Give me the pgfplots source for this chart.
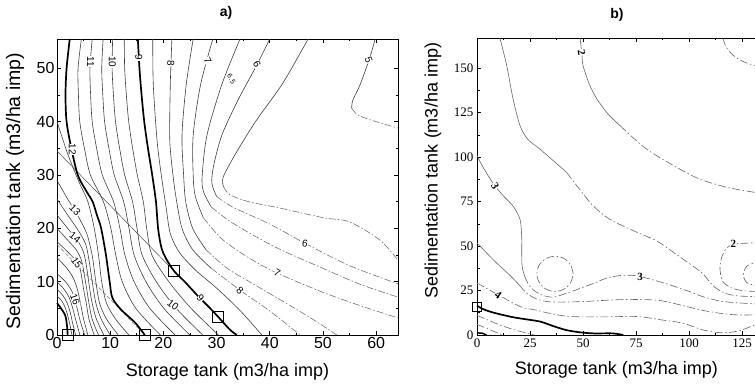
\documentclass[border=0pt]{standalone}
\usepackage{fontspec}
\setmainfont{Liberation Sans}
\newfontfamily\serif{Liberation Serif}
\usepackage{pgfplots}
\pgfplotsset{compat=1.18}
\pgfplotsset{
  cl/.style={no marks, smooth, line width=0.6pt, black!75},
  th/.style={no marks, smooth, line width=1.7pt, black},
  dl/.style={no marks, smooth, line width=0.6pt, black!55, dash pattern=on 7pt off 2pt on 1.5pt off 2pt},
  bl/.style={no marks, smooth, line width=0.6pt, black!60},
  bd/.style={no marks, smooth, line width=0.6pt, black!60, dash pattern=on 8pt off 2.5pt on 1.5pt off 2.5pt},
}
\tikzset{
  lab/.style={fill=white, inner sep=0.3pt, font=\fontsize{10}{10}\selectfont},
  labb/.style={fill=white, inner sep=0.5pt, font=\serif\bfseries\fontsize{11}{11}\selectfont},
}
\begin{document}
\begin{tikzpicture}[x=1pt,y=1pt]
\useasboundingbox (0,0) rectangle (755,389);
\node[font=\bfseries\fontsize{14}{14}\selectfont] at (226,376) {a)};
\node[font=\bfseries\fontsize{14}{14}\selectfont] at (617,374) {b)};
% ---------------- panel a ----------------
\begin{axis}[name=a, at={(57pt,54pt)}, anchor=south west, scale only axis,
  width=341pt, height=296pt, xmin=0, xmax=64.1, ymin=0, ymax=55.5,
  xtick={0,10,...,60}, ytick={0,10,...,50}, minor tick num=1,
  tick align=inside, major tick length=4pt, minor tick length=2.5pt,
  every tick/.style={black, line width=0.6pt},
  axis line style={line width=0.8pt},
  /pgf/number format/assume math mode=true,
  ticklabel style={font=\fontsize{16}{16}\selectfont},
  xticklabel style={yshift=1pt}, yticklabel style={xshift=1pt},
  every axis x label/.style={at={(rel axis cs:0.5,0)}, anchor=center, yshift=-37pt, font=\fontsize{18}{18}\selectfont},
  every axis y label/.style={at={(rel axis cs:0,0.5)}, anchor=center, rotate=90, yshift=42pt, xshift=-4pt, font=\fontsize{19.5}{19.5}\selectfont},
  xlabel={Storage tank (m3/ha imp)}, ylabel={Sedimentation tank (m3/ha imp)},
  clip=false]
% straight lines
\addplot[no marks, line width=0.5pt, black!70] coordinates {(0,34.5) (22,12)};
\addplot[no marks, line width=0.5pt, black!55, dash pattern=on 4pt off 2pt] coordinates {(0,17) (16.5,0)};
% left bundle
\addplot[cl] coordinates {(0,40) (2,34) (4,29) (5.8,25) (7,20) (7.8,15) (8.4,10) (9.3,6) (11,3) (13.5,0)};
\addplot[cl] coordinates {(0,29) (2,25.5) (4,22.2) (5.6,19) (6.6,15) (7.3,10) (8,6) (9.3,3) (11.5,0)};
\addplot[cl] coordinates {(0,25.5) (2,22.5) (4,19.6) (5.4,17) (6.1,13.5) (6.7,9.5) (7.3,6) (8.3,3) (10,0)};
\addplot[cl] coordinates {(0,22.5) (2,20) (3.8,17.8) (5,15.5) (5.6,12.5) (6.1,9) (6.6,6) (7.4,3) (8.8,0)};
\addplot[cl] coordinates {(0,20) (2,17.8) (3.6,16) (4.6,14) (5.1,11.5) (5.6,8.5) (6,6) (6.6,3) (7.8,0)};
\addplot[cl] coordinates {(0,17.5) (2,15.6) (3.5,14) (4.3,12.5) (4.7,10.5) (5.1,8) (5.5,6) (6,3) (7,0)};
\addplot[cl] coordinates {(0,14.5) (1.8,12.6) (3.0,10.8) (3.7,9) (4.2,7) (4.6,5) (5,3) (5.8,0)};
\addplot[cl] coordinates {(0,11.5) (1.6,10) (2.8,8.2) (3.4,6.6) (3.9,4.5) (4.4,2.5) (5.2,0)};
\addplot[cl] coordinates {(0,10) (1.3,8.6) (2.3,7) (2.9,5.2) (3.4,3.3) (4.3,0)};
\addplot[cl] coordinates {(0,8.6) (1.1,7.4) (1.9,6) (2.5,4.2) (2.9,2.4) (3.5,0)};
\addplot[cl] coordinates {(0,7.3) (0.9,6.4) (1.6,5) (2.1,3.3) (2.5,1.6) (2.8,0)};
\addplot[th] coordinates {(0,6) (1.5,3.8) (1.9,1.5) (2,0)};
% thick 12
\addplot[th] coordinates {(2.4,55.5) (1.8,50) (1.6,45) (1.8,40) (2.7,35) (3.9,30) (5.5,27) (6.7,25) (7.5,22.5) (8.3,20) (9.2,15) (9.9,10) (10.4,7) (12,4.8) (14.7,2.3) (16.5,0)};
% between 12 and 9
\addplot[cl] coordinates {(4.58,55.5) (3.96,50) (4.03,45) (4.28,40) (5.15,35) (6.28,30) (8.72,25) (10.12,20) (11.04,15) (12.26,10) (14.81,5) (19.44,0)};
\addplot[cl] coordinates {(6.62,55.5) (6.19,50) (6.32,45) (6.62,40) (7.45,35) (8.52,30) (10.63,25) (11.83,20) (12.76,15) (14.49,10) (17.45,5) (22.21,0)};
\addplot[cl] coordinates {(8.67,55.5) (8.41,50) (8.61,45) (8.95,40) (9.76,35) (10.76,30) (12.53,25) (13.54,20) (14.49,15) (16.71,10) (20.09,5) (24.98,0)};
\addplot[cl] coordinates {(10.46,55.5) (10.36,50) (10.61,45) (11.0,40) (11.77,35) (12.72,30) (14.2,25) (15.04,20) (16.0,15) (18.66,10) (22.4,5) (27.4,0)};
\addplot[cl] coordinates {(12.64,55.5) (12.72,50) (13.04,45) (13.48,40) (14.22,35) (15.1,30) (16.22,25) (16.86,20) (17.84,15) (21.02,10) (25.2,5) (30.34,0)};
% thick 9
\addplot[th] coordinates {(15.2,55.5) (15.5,50) (15.9,45) (16.4,40) (17.1,35) (17.9,30) (18.6,25) (19.0,20) (19.6,16.5) (20.4,14.5) (22,12) (24,10) (26.5,7.3) (28.5,5.3) (30.3,3.4) (32.5,1) (33.8,0)};
% right group
\addplot[cl] coordinates {(18,55.5) (18.1,47) (18.8,36.6) (19.6,30) (20.5,24) (21.3,19) (23,15.5) (26,12.2) (30,8.8) (34.5,4.5) (38.5,0)};
\addplot[cl] coordinates {(21.6,55.5) (21.3,47) (21.2,36.6) (21.8,30) (22.5,25) (23.5,20) (25.5,16) (29,12.5)};
\addplot[dl] coordinates {(29,12.5) (34.4,8.4) (40,4.5) (45.7,0)};
\addplot[cl] coordinates {(25.6,55.5) (24.3,47) (23.5,37.5) (23.8,30) (24.2,25) (25.5,20) (28,16)};
\addplot[dl] coordinates {(28,16) (32,12.5) (37,9.5) (43,6) (48,3) (52.6,0)};
\addplot[cl] coordinates {(29.3,55.5) (27,47) (25.6,37.5) (25.6,30) (26,26) (27.5,22)};
\addplot[dl] coordinates {(27.5,22) (31,18) (36,14.5) (41.4,11.6) (50,8) (57,5.5) (64.1,3.2)};
\addplot[cl] coordinates {(34.4,55.5) (31,47) (28.2,37.5) (27.3,30) (27.5,27) (29,24)};
\addplot[dl] coordinates {(29,24) (33,21) (41,16.5) (50,12.5) (57,9.5) (64.1,7.1)};
\addplot[cl] coordinates {(40,55.5) (37.6,50.7) (34,44) (31,37.5) (29.5,32) (29.1,28.5) (30,26)};
\addplot[dl] coordinates {(30,26) (33,24) (40,20.8) (46.6,17.2) (55,13) (64.1,9.6)};
\addplot[cl] coordinates {(47.2,55.5) (42.5,47.3) (38,41) (35.7,37.5) (33,33) (31.2,29.5) (31.3,27.8)};
\addplot[dl] coordinates {(31.3,27.8) (32.5,26.3) (36,25) (41.9,23.8) (50,22) (55,21.2) (60.7,17.8) (64.1,14)};
\addplot[cl] coordinates {(59.8,55.5) (58.8,52) (57,47) (55.6,44) (55.4,42.5)};
\addplot[dl] coordinates {(55.4,42.5) (56.5,41.3) (59,40.3) (64.1,38.8)};
% squares
\addplot[only marks, mark=square, mark size=5.5pt, mark options={line width=0.9pt, black, fill=none}] coordinates {(2.1,0) (16.5,0) (22,12) (30.3,3.4)};
% labels
\node[lab, rotate=-90] at (axis cs:6.3,51.2) {11};
\node[lab, rotate=-90] at (axis cs:10.4,51.2) {10};
\node[lab, rotate=-90] at (axis cs:15.4,52) {9};
\node[lab, rotate=-90] at (axis cs:21.4,51) {8};
\node[lab, rotate=-65] at (axis cs:28.3,51.5) {7};
\node[lab, rotate=-60, font=\fontsize{7}{7}\selectfont] at (axis cs:32.8,48) {6.5};
\node[lab, rotate=-60] at (axis cs:37.6,50.7) {6};
\node[lab, rotate=-70] at (axis cs:58.6,51.6) {5};
\node[lab, rotate=-90] at (axis cs:2.9,34.8) {12};
\node[lab, rotate=-45] at (axis cs:3.4,23.4) {13};
\node[lab, rotate=-38] at (axis cs:3.4,18.3) {14};
\node[lab, rotate=-55] at (axis cs:3.7,13.5) {15};
\node[lab, rotate=-70] at (axis cs:3.4,6.6) {16};
\node[lab, rotate=-38] at (axis cs:21.8,5.6) {10};
\node[lab, rotate=-45] at (axis cs:27.0,6.9) {9};
\node[lab, rotate=-40] at (axis cs:34.4,8.4) {8};
\node[lab, rotate=-30] at (axis cs:41.4,11.6) {7};
\node[lab, rotate=-10] at (axis cs:46.6,17.2) {6};
\end{axis}
% ---------------- panel b ----------------
\begin{axis}[name=b, at={(477pt,54pt)}, anchor=south west, scale only axis,
  width=286.2pt, height=297pt, xmin=0, xmax=135, ymin=0, ymax=167,
  xtick={0,25,...,125}, ytick={0,25,...,150}, minor tick num=1,
  tick align=inside, major tick length=4pt, minor tick length=2.5pt,
  every tick/.style={black, line width=0.6pt},
  axis line style={line width=0.8pt},
  /pgf/number format/assume math mode=true,
  ticklabel style={font=\serif\fontsize{13}{13}\selectfont},
  every axis x label/.style={at={(rel axis cs:0.487,0)}, anchor=center, yshift=-35pt, font=\fontsize{18}{18}\selectfont},
  every axis y label/.style={at={(rel axis cs:0,0.5)}, anchor=center, rotate=90, yshift=44pt, xshift=16pt, font=\fontsize{18}{18}\selectfont},
  xlabel={Storage tank (m3/ha imp)}, ylabel={Sedimentation tank (m3/ha imp)},
  clip=false]
% A
\addplot[bl] coordinates {(48.6,167) (49.4,159) (50,151.6) (53,141) (56.5,132.8) (62,124) (67.5,117.7)};
\addplot[bd] coordinates {(67.5,117.7) (80,104.5) (95.8,93.2) (105.2,87.6) (118,83) (131,80.2) (135,79.5)};
% top right
\addplot[bd] coordinates {(116,167) (117.5,162) (120.9,157.2) (126,153.5) (131,151.6) (135,150.5)};
% B
\addplot[bl] coordinates {(10.8,167) (14,151.6) (17,132.8) (20.3,117.7) (24,110) (29.7,104.5) (36,98) (42.3,91.4)};
\addplot[bd] coordinates {(42.3,91.4) (48,82.5) (54.9,72.5) (62.7,65) (75,58) (85,52.7) (95,44.5) (105.2,35.8) (109,31) (112,27) (117,23.5) (123,22) (131,21.6) (135,21.5)};
% right curves (2)
\addplot[bd] coordinates {(135,51.8) (131,51.8) (125,51.5) (120.9,51.1) (117.5,48.5) (115.5,44) (114.6,37) (116,30) (120,26.5) (125,25) (131,24.5) (135,24.5)};
\addplot[bd] coordinates {(135,40.5) (131,40.5) (127.2,38.6) (125.6,33.9) (127.2,29.5) (131,28) (135,28)};
% ellipse
\addplot[bd] coordinates {(45.4,34.4) (44.2,39.4) (41.1,43) (36.8,44.3) (32.5,43) (29.4,39.4) (28.2,34.4) (29.4,29.5) (32.5,25.8) (36.8,24.5) (41.1,25.8) (44.2,29.5) (45.4,34.4)};
% C (3)
\addplot[bl] coordinates {(0,100.7) (4,92) (8.5,83.8) (13,77.5) (17,72.5) (20.3,65) (21.1,55) (21.1,48) (21.3,38.6) (22.5,33)};
\addplot[bd] coordinates {(22.5,33) (24.5,28) (27.5,24.5) (31,22.3) (36,21.3) (42.3,23.5) (50.2,26.9) (56,29.5) (61.2,32) (68,33.5) (75.3,33.3) (83,31) (91,28.2) (100,24.5) (106.7,21.5) (116.2,18.8) (131,17.5) (135,17.3)};
% D
\addplot[bl] coordinates {(0,51.8) (6.1,44.2) (11,38.5) (15.6,33.5) (20,28)};
\addplot[bd] coordinates {(20,28) (23,24) (27,20.8) (32,19) (37.6,18.5) (50,18.8) (62,19.6) (72,20) (84.8,19.6) (92,18) (98.9,16) (106.7,13.8) (116,12) (123,11.3) (131,11.3) (135,11.3)};
% E (4)
\addplot[bd] coordinates {(0,29.2) (10,22.6) (20.3,16) (27.4,14.1) (35,12) (43.9,10.4) (60,10.2) (75.3,10.4) (87,8.5) (97.3,6.6) (106.7,2.8) (116.2,1.2) (124,2.5) (131,5.6) (135,6.5)};
% thin lines near origin
\addplot[bd] coordinates {(0,11) (5,8.5) (10,6) (16,3.5) (22,1.5) (27,0)};
\addplot[bd] coordinates {(0,6) (4,4) (8,2) (12,0)};
% thick
\addplot[th] coordinates {(0,16.5) (3,14.5) (8,12.5) (17,10) (25,8.5) (30,7.5) (36,5) (42,2.8) (48.6,1.5) (55,0.9) (64,0.9) (69,0)};
\addplot[no marks, line width=1.5pt, black] coordinates {(0,1.2) (2.5,1) (4.5,0)};
\addplot[only marks, mark=square, mark size=4.5pt, mark options={line width=0.9pt, black, fill=none}] coordinates {(0,16)};
% labels
\node[labb, rotate=-80] at (axis cs:49.4,159) {2};
\node[labb, rotate=-60] at (axis cs:8.5,83.8) {3};
\node[labb] at (axis cs:76.9,32.8) {3};
\node[labb] at (axis cs:120.9,51.1) {2};
\node[labb, rotate=-35] at (axis cs:10,22.6) {4};
\end{axis}
\end{tikzpicture}
\end{document}
